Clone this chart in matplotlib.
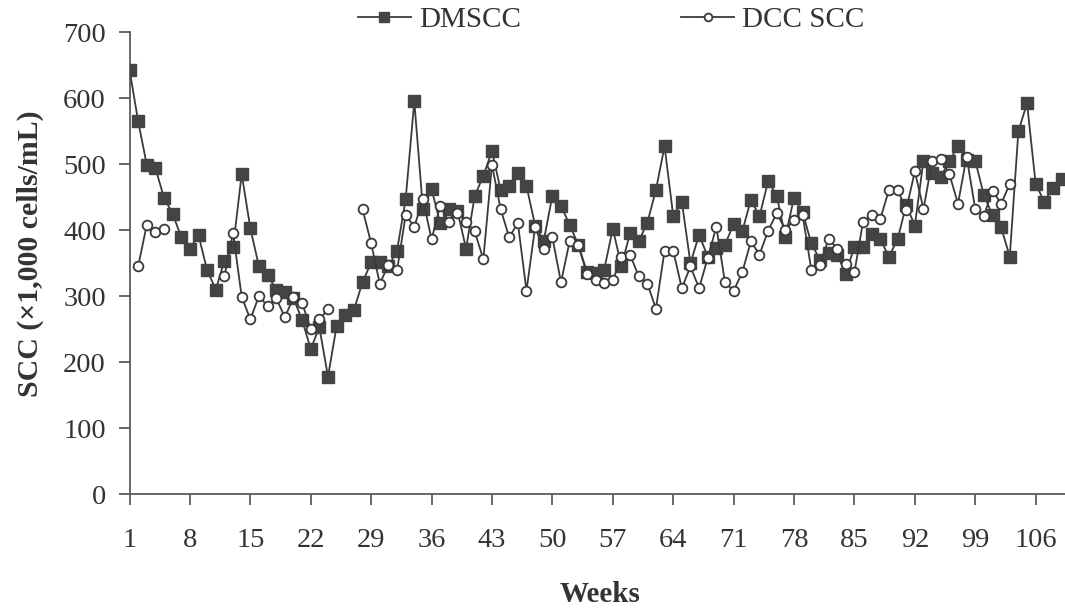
import matplotlib
matplotlib.use("Agg")
import matplotlib.pyplot as plt
import numpy as np

nan = np.nan

weeks = list(range(1, 110))

dmscc = [643, 565, 499, 494, 449, 425, 389, 372, 392, 339,
         310, 354, 374, 485, 403, 345, 332, 310, 306, 297,
         264, 220, 253, 178, 255, 272, 279, 321, 351, 351,
         345, 369, 447, 595, 432, 462, 411, 432, 429, 372,
         452, 482, 520, 461, 467, 487, 467, 407, 384, 452,
         437, 408, 378, 337, 335, 340, 402, 346, 395, 383,
         411, 461, 527, 422, 443, 350, 393, 360, 373, 378,
         409, 398, 446, 421, 474, 452, 390, 449, 427, 380,
         355, 365, 363, 334, 375, 375, 394, 386, 360, 386,
         438, 407, 505, 486, 481, 504, 528, 506, 505, 453,
         423, 404, 360, 550, 592, 470, 443, 464, 477]

dcc_scc = [nan, 345, 408, 397, 401, nan, nan, nan, nan, nan,
           nan, 330, 396, 299, 265, 300, 285, 297, 268, 298,
           290, 250, 265, 280, nan, nan, nan, 432, 380, 319,
           347, 339, 423, 405, 447, 386, 437, 413, 426, 413,
           398, 356, 499, 432, 389, 411, 308, 405, 371, 389,
           321, 383, 377, 334, 324, 320, 324, 359, 363, 330,
           319, 281, 369, 369, 312, 345, 312, 358, 405, 321,
           308, 336, 383, 363, 399, 426, 400, 416, 423, 340,
           347, 387, 372, 348, 336, 413, 423, 417, 461, 461,
           431, 489, 432, 504, 508, 485, 440, 511, 432, 422,
           460, 440, 470, nan, nan, nan, nan, nan, nan]

xticks = list(range(1, 107, 7))
yticks = list(range(0, 701, 100))

plt.rcParams['font.family'] = ['Liberation Serif', 'DejaVu Serif']
ink = '#3a3a3a'
axis_col = '#5a5a5a'
txt = '#333333'

fig = plt.figure(figsize=(10.65, 6.11), dpi=100)
ax = fig.add_axes([0.1216, 0.191, 0.8784, 0.7566])

ax.plot(weeks, dmscc, color=ink, lw=1.3, marker='s', markersize=8.5,
        markerfacecolor='#444444', markeredgecolor='#444444', label='DMSCC', zorder=3)
ax.plot(weeks, dcc_scc, color=ink, lw=1.3, marker='o', markersize=7,
        markerfacecolor='white', markeredgecolor=ink, markeredgewidth=1.3,
        label='DCC SCC', zorder=4)

ax.set_xlim(1, 109.4)
ax.set_ylim(0, 700)
ax.set_xticks(xticks)
ax.set_yticks(yticks)

for side in ['top', 'right']:
    ax.spines[side].set_visible(False)
for side in ['left', 'bottom']:
    ax.spines[side].set_color(axis_col)
    ax.spines[side].set_linewidth(1.3)

ax.tick_params(axis='x', direction='out', length=8, width=1.3, color=axis_col,
               labelsize=20.5, labelcolor=txt, pad=16)
ax.tick_params(axis='y', direction='out', length=8, width=1.3, color=axis_col,
               labelsize=20.5, labelcolor=txt, pad=9)

ax.set_xlabel('Weeks', fontsize=21, fontweight='bold', color=txt)
ax.xaxis.set_label_coords(0.503, -0.2175)
ax.xaxis.label.set_va('center')
ax.set_ylabel('SCC (×1,000 cells/mL)', fontsize=21.5, fontweight='bold', color=txt)
ax.yaxis.set_label_coords(-0.1064, 0.521)
ax.yaxis.label.set_va('center')

handles, labels = ax.get_legend_handles_labels()
leg = fig.legend(handles, labels, loc='center', bbox_to_anchor=(0.574, 0.967),
                 ncol=2, frameon=False, fontsize=21, handlelength=1.8,
                 handletextpad=0.28, columnspacing=5.5, markerscale=0.8)
for t in leg.get_texts():
    t.set_color(txt)

fig.savefig('out.png', dpi=100)
